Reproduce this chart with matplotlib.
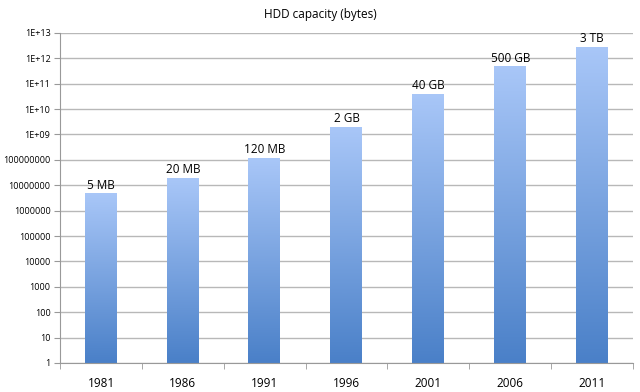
import numpy as np
import matplotlib
matplotlib.use("Agg")
import matplotlib.pyplot as plt
from matplotlib.colors import LinearSegmentedColormap
from matplotlib.transforms import blended_transform_factory

years = ["1981", "1986", "1991", "1996", "2001", "2006", "2011"]
capacity = [5e6, 2e7, 1.2e8, 2e9, 4e10, 5e11, 3e12]
labels = ["5 MB", "20 MB", "120 MB", "2 GB", "40 GB", "500 GB", "3 TB"]
ytick_vals = [10.0 ** k for k in range(14)]
ytick_text = ["1", "10", "100", "1000", "10000", "100000", "1000000",
              "10000000", "100000000", "1E+09", "1E+10", "1E+11", "1E+12", "1E+13"]

plt.rcParams['font.family'] = ['Open Sans', 'DejaVu Sans']

fig = plt.figure(figsize=(6.4, 3.92), dpi=100)
ax = fig.add_axes([0.094, 0.074, 0.895, 0.842])
ax.set_yscale("log")
ax.set_ylim(1, 1e13)
ax.set_xlim(-0.5, len(years) - 0.5)

x = np.arange(len(years))
bars = ax.bar(x, capacity, width=0.4, bottom=1, color="none", zorder=2)

# gradient fill, light at the top of each bar, darker at the base
cmap = LinearSegmentedColormap.from_list("g", ["#4a80c8", "#a9c7f8"])
grad = np.linspace(0, 1, 256).reshape(-1, 1)
trans = blended_transform_factory(ax.transData, ax.transAxes)
for b, v in zip(bars, capacity):
    top = ax.transAxes.inverted().transform(ax.transData.transform((0, v)))[1]
    ax.imshow(grad, cmap=cmap, origin="lower", aspect="auto",
              extent=[b.get_x(), b.get_x() + b.get_width(), 0, top],
              transform=trans, zorder=2, interpolation="bilinear")

for xi, v, lab in zip(x, capacity, labels):
    ax.annotate(lab, (xi, v), xytext=(0, 1), textcoords="offset points",
                ha="center", va="bottom", fontsize=8.5, zorder=3)

ax.set_xlim(-0.5, len(years) - 0.5)
ax.set_ylim(1, 1e13)

ax.set_yticks(ytick_vals)
ax.set_yticklabels(ytick_text, fontsize=6.5)
ax.yaxis.set_minor_locator(matplotlib.ticker.NullLocator())
ax.set_xticks(x)
ax.set_xticklabels(years, fontsize=8.5)
ax.set_xticks(np.arange(len(years) + 1) - 0.5, minor=True)
ax.tick_params(axis="x", which="major", length=0, pad=10)
ax.tick_params(axis="x", which="minor", length=4, color="#999999", direction="out")
ax.tick_params(axis="y", length=4, color="#999999", pad=3)

ax.grid(axis="y", color="#b8b8b8", linewidth=1)
ax.set_axisbelow(True)
for s in ["top", "right"]:
    ax.spines[s].set_visible(False)
ax.spines["left"].set_color("#999999")
ax.spines["bottom"].set_color("#999999")

fig.text(0.5, 0.963, "HDD capacity (bytes)", ha="center", va="center", fontsize=8.5)

fig.savefig("out.png", dpi=100)
